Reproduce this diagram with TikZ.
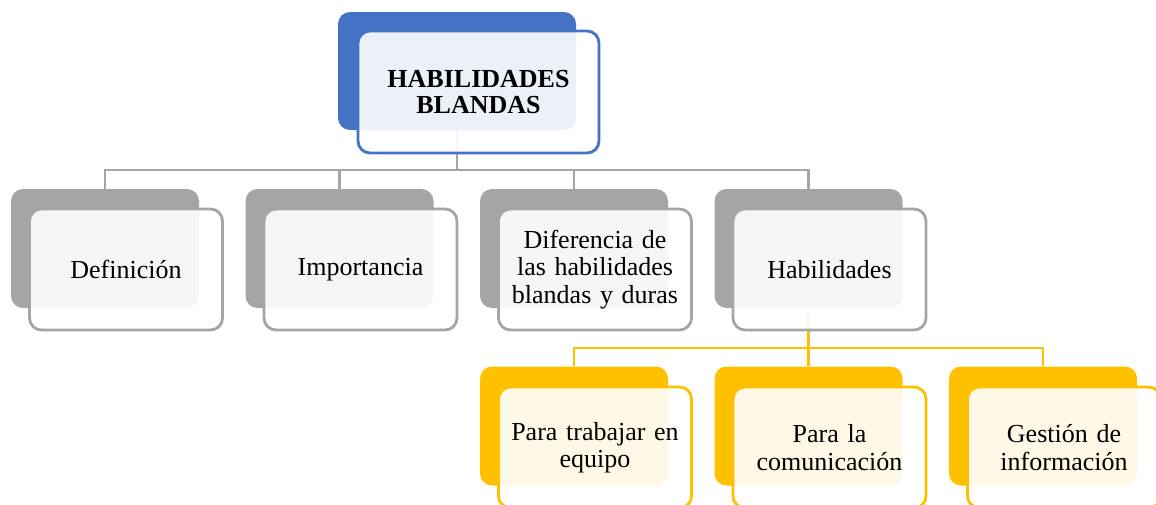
\documentclass[tikz,border=0pt]{standalone}
\usepackage{fontspec}
\setmainfont{Liberation Serif}
\definecolor{cblue}{HTML}{4472C4}
\definecolor{cgray}{HTML}{A5A5A5}
\definecolor{cgold}{HTML}{FFC000}
\tikzset{
  backbox/.style={rectangle, rounded corners=12pt, minimum width=188pt, minimum height=119pt, inner sep=0pt, draw=none},
  frontbox/.style={rectangle, rounded corners=12pt, minimum width=193pt, minimum height=121pt, inner sep=0pt, line width=2.8pt, fill=white, fill opacity=0.9, text opacity=1, align=center, text width=180pt, font=\fontsize{26}{27.5}\selectfont},
  conn/.style={line width=2.8pt}
}
\begin{document}
\begin{tikzpicture}[x=1pt,y=-1pt]
\useasboundingbox (0,0) rectangle (1156,504);
\clip (0,0) rectangle (1156,504);
% back boxes
\node[backbox, fill=cblue, minimum width=238pt, minimum height=118pt] (b0) at (457,71) {};
\node[backbox, fill=cgray] (b1) at (105,248.5) {};
\node[backbox, fill=cgray] (b2) at (339.5,248.5) {};
\node[backbox, fill=cgray] (b3) at (574,248.5) {};
\node[backbox, fill=cgray] (b4) at (808.5,248.5) {};
\node[backbox, fill=cgold] (c1) at (574,426) {};
\node[backbox, fill=cgold] (c2) at (808.5,426) {};
\node[backbox, fill=cgold] (c3) at (1043,426) {};
% connectors
\coordinate (j0) at (457,170);
\draw[conn, cgray] (b0.south) -- (j0);
\draw[conn, cgray] (j0) -| (b1.north);
\draw[conn, cgray] (j0) -| (b2.north);
\draw[conn, cgray] (j0) -| (b3.north);
\draw[conn, cgray] (j0) -| (b4.north);
\coordinate (j1) at (808.5,348);
\draw[conn, cgold] (b4.south) -- (j1);
\draw[conn, cgold] (j1) -| (c1.north);
\draw[conn, cgold] (j1) -| (c2.north);
\draw[conn, cgold] (j1) -| (c3.north);
% front boxes
\node[frontbox, draw=cblue, minimum width=241pt, minimum height=122pt, text width=230pt, font=\fontsize{26}{26}\selectfont\bfseries] (f0) at (478.5,92) {HABILIDADES\\BLANDAS};
\node[frontbox, draw=cgray] (f1) at (126,269.5) {Definición};
\node[frontbox, draw=cgray] (f2) at (360.5,269.5) {Importancia};
\node[frontbox, draw=cgray] (f3) at (595,269.5) {Diferencia de\\las habilidades\\blandas y duras};
\node[frontbox, draw=cgray] (f4) at (829.5,269.5) {Habilidades};
\node[frontbox, draw=cgold] (g1) at (595,447.5) {Para trabajar en\\equipo};
\node[frontbox, draw=cgold] (g2) at (829.5,447.5) {Para la\\comunicación};
\node[frontbox, draw=cgold] (g3) at (1064,447.5) {Gestión de\\información};
\end{tikzpicture}
\end{document}
